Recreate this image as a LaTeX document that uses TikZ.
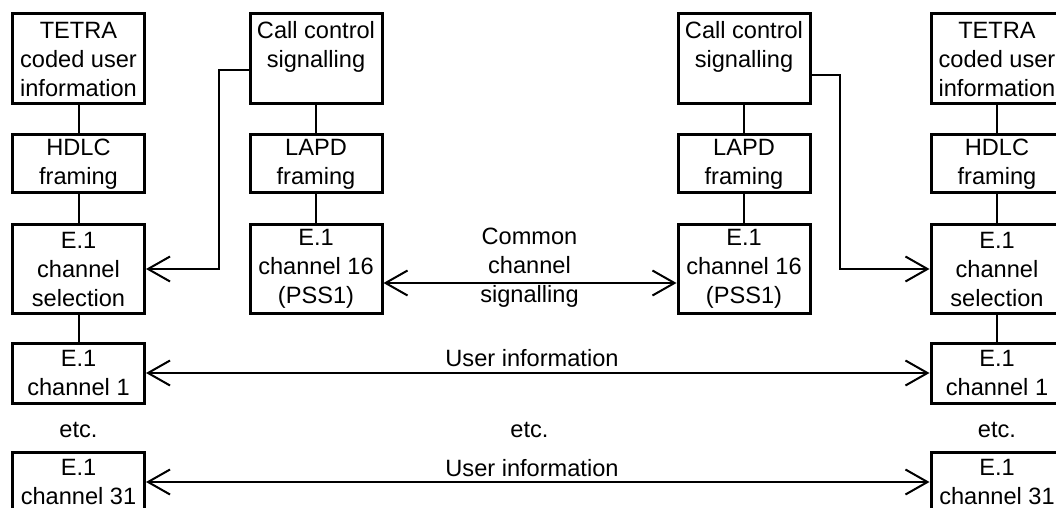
\documentclass[tikz,border=0pt]{standalone}
\usepackage{fontspec}
\setmainfont{Liberation Sans}
\usetikzlibrary{arrows.meta}
\tikzset{
	box/.style={draw=black, line width=1.5pt, minimum width=66pt, inner sep=0pt,
		align=center, font=\fontsize{11.8pt}{14.5pt}\selectfont},
	txt/.style={inner sep=0pt, align=center, font=\fontsize{11.8pt}{14.5pt}\selectfont},
	verb/.style={line width=1pt},
	>={Straight Barb[length=11pt,width=12.5pt]}
}
\begin{document}
\begin{tikzpicture}[x=0.5pt, y=-0.5pt]
	\useasboundingbox (0,0) rectangle (1056,508);
	\clip (0,0) rectangle (1056,508);
	% Spalte links
	\node[box, minimum height=45pt] (tetral) at (78.5, 59) {TETRA\\coded user\\information};
	\node[box, minimum height=29pt] (hdlcl) at (78.5, 164) {HDLC\\framing};
	\node[box, minimum height=44pt] (sell) at (78.5, 269) {E.1\\channel\\selection};
	\node[box, minimum height=30pt] (ch1l) at (78.5, 373) {E.1\\channel 1};
	\node[txt] (etcl) at (78.5, 430) {etc.};
	\node[box, minimum height=30pt] (ch31l) at (78.5, 482) {E.1\\channel 31};
	% Signalisierung links
	\node[box, minimum height=45pt] (ccl) at (316, 59) {Call control\\signalling\\\mbox{}};
	\node[box, minimum height=29pt] (lapdl) at (316, 164) {LAPD\\framing};
	\node[box, minimum height=44pt] (ch16l) at (316, 269) {E.1\\channel 16\\(PSS1)};
	% Signalisierung rechts
	\node[box, minimum height=45pt] (ccr) at (744, 59) {Call control\\signalling\\\mbox{}};
	\node[box, minimum height=29pt] (lapdr) at (744, 164) {LAPD\\framing};
	\node[box, minimum height=44pt] (ch16r) at (744, 269) {E.1\\channel 16\\(PSS1)};
	% Spalte rechts
	\node[box, minimum height=45pt] (tetrar) at (997, 59) {TETRA\\coded user\\information};
	\node[box, minimum height=29pt] (hdlcr) at (997, 164) {HDLC\\framing};
	\node[box, minimum height=44pt] (selr) at (997, 269) {E.1\\channel\\selection};
	\node[box, minimum height=30pt] (ch1r) at (997, 373) {E.1\\channel 1};
	\node[txt] (etcr) at (997, 430) {etc.};
	\node[box, minimum height=30pt] (ch31r) at (997, 482) {E.1\\channel 31};
	% Beschriftungen Mitte
	\node[txt] (ccs) at (529.5, 268) {Common\\channel\\signalling};
	\node[txt] (ui1) at (532, 358) {User information};
	\node[txt] (etcm) at (529.5, 430) {etc.};
	\node[txt] (ui31) at (532, 468) {User information};
	% Verbindungen
	\draw[verb] (tetral) -- (hdlcl) -- (sell) -- (ch1l);
	\draw[verb] (tetrar) -- (hdlcr) -- (selr) -- (ch1r);
	\draw[verb] (ccl) -- (lapdl) -- (ch16l);
	\draw[verb] (ccr) -- (lapdr) -- (ch16r);
	\draw[verb, ->] ([yshift=-5.5pt]ccl.west) -- ++(-30,0) |- (sell.east);
	\draw[verb, ->] ([yshift=-8pt]ccr.east) -- ++(28,0) |- (selr.west);
	\draw[verb, <->] ([yshift=-7pt]ch16l.east) -- ([yshift=-7pt]ch16r.west);
	\draw[verb, <->] (ch1l) -- (ch1r);
	\draw[verb, <->] (ch31l) -- (ch31r);
\end{tikzpicture}
\end{document}
